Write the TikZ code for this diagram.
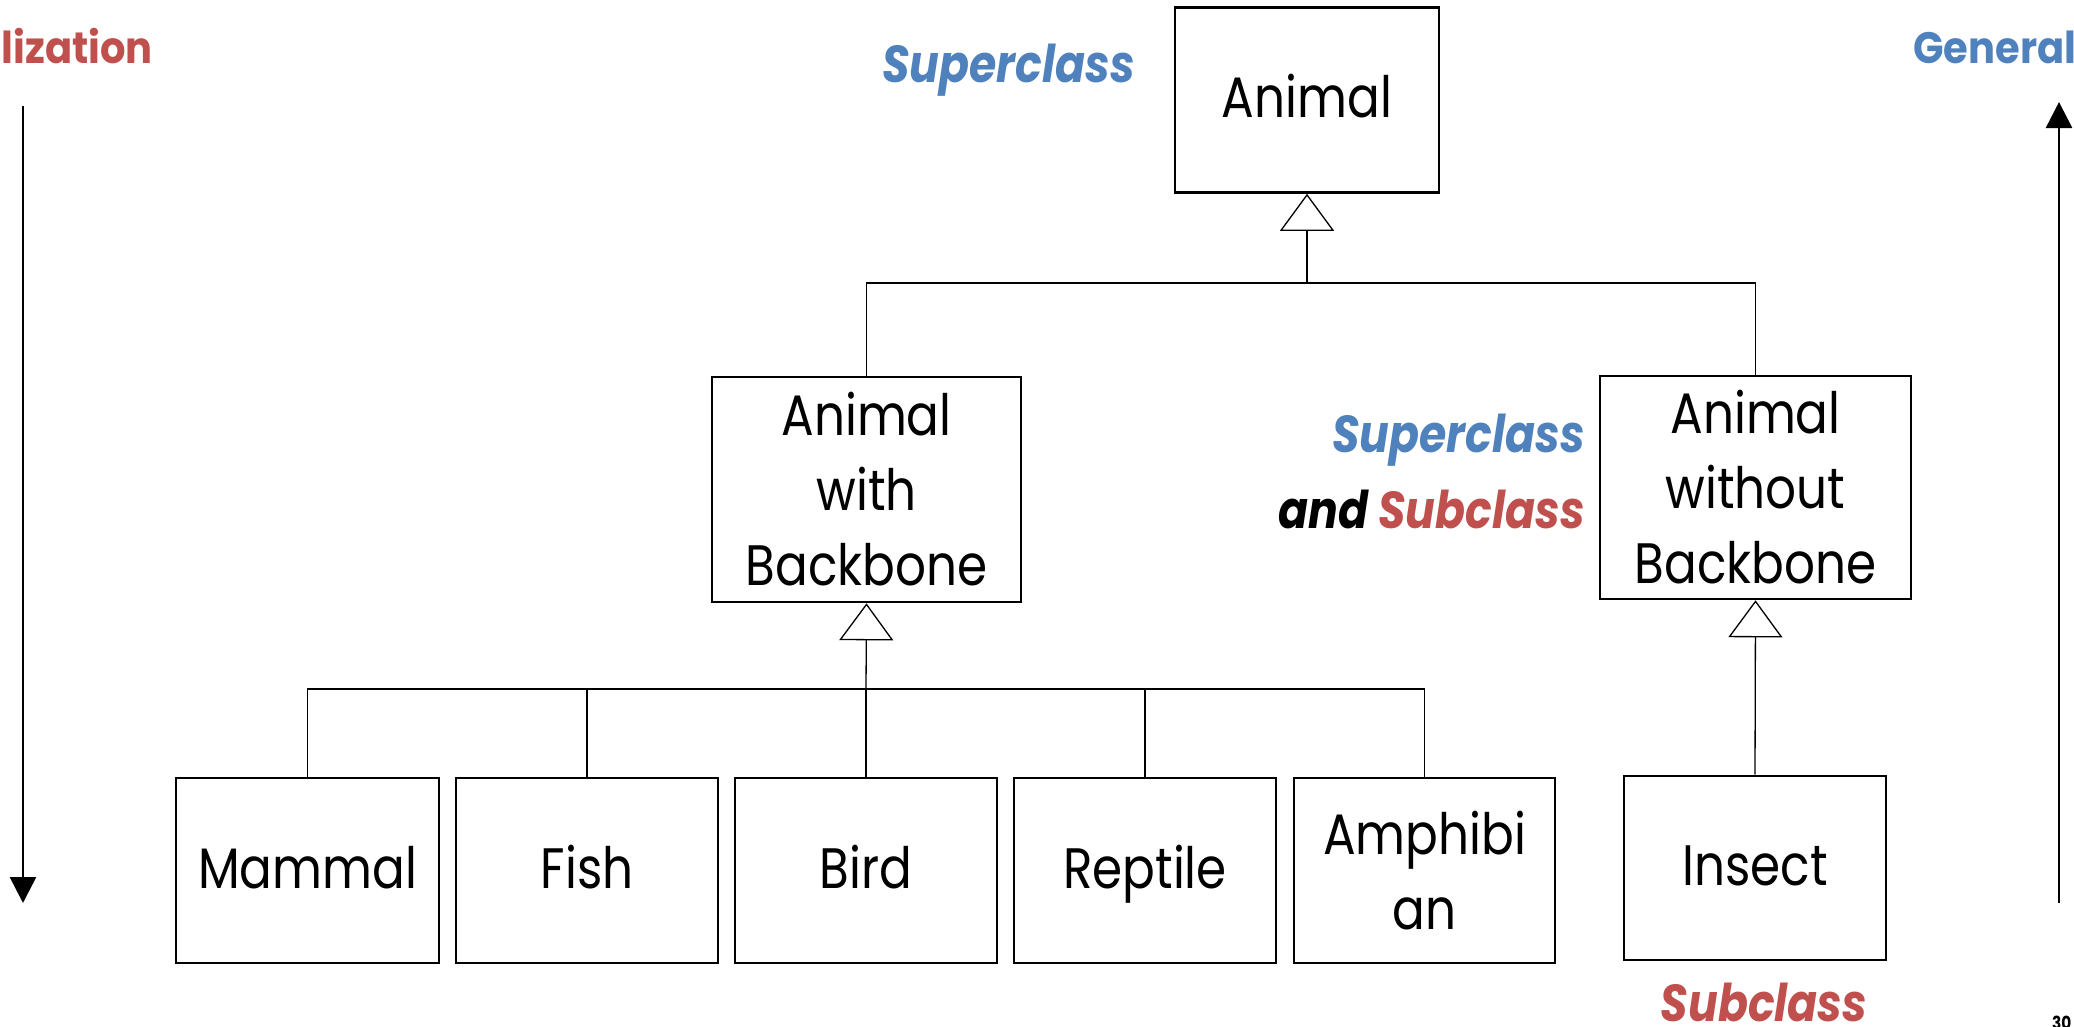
\documentclass[tikz,border=0pt]{standalone}
\usepackage{fontspec}
\setmainfont{Poppins}[FakeStretch=0.85]
\newfontfamily\dirfont{Poppins}[FakeStretch=0.91]
\usetikzlibrary{arrows.meta}
\definecolor{supred}{HTML}{C0504D}
\definecolor{supblue}{HTML}{4F81BD}
\begin{document}
\begin{tikzpicture}[x=1pt,y=-1pt,
  classbox/.style={draw, line width=2.6pt, fill=white, inner sep=0pt,
    align=center, font=\fontsize{57}{75}\selectfont},
  oneline/.style={text height=40pt, text depth=5pt},
  link/.style={line width=1.3pt},
  inh/.style={line width=1.3pt, -{Triangle[open,width=54pt,length=37pt]}},
  role/.style={font=\fontsize{52}{76}\selectfont\bfseries\itshape, inner sep=0pt},
  direction/.style={font=\dirfont\fontsize{44}{50}\selectfont\bfseries, inner sep=0pt},
  axis/.style={line width=2.6pt, -{Triangle[width=26pt,length=26pt]}}]
\useasboundingbox (0,0) rectangle (2074,1026);

% class boxes
\node[classbox, oneline, minimum width=264pt, minimum height=185pt] (animal) at (1307,100) {Animal};
\node[classbox, minimum width=309pt, minimum height=225pt] (awb) at (866.5,489.5) {Animal\\with\\Backbone};
\node[classbox, minimum width=311pt, minimum height=223pt] (awob) at (1755.5,487.5) {Animal\\without\\Backbone};
\node[classbox, oneline, minimum width=263pt, minimum height=185pt] (mammal) at (307.5,870.5) {Mammal};
\node[classbox, oneline, minimum width=262pt, minimum height=185pt] (fish) at (587,870.5) {Fish};
\node[classbox, oneline, minimum width=262pt, minimum height=185pt] (bird) at (866,870.5) {Bird};
\node[classbox, oneline, minimum width=262pt, minimum height=185pt] (reptile) at (1145,870.5) {Reptile};
\node[classbox, minimum width=261pt, minimum height=185pt] (amphibian) at (1424.5,870.5) {Amphibi\\an};
\node[classbox, oneline, minimum width=262pt, minimum height=184pt] (insect) at (1755,868) {Insect};

% generalisation links
\coordinate (j1) at (1307,283);
\coordinate (j2) at (866,689);
\draw[inh] (j1) -- (animal.south);
\draw[link] (awb.north) |- (j1) -| (awob.north);
\draw[inh] (j2) -- (awb.south);
\draw[link] (mammal.north) |- (j2) -| (amphibian.north);
\draw[link] (fish.north) -- (fish.north |- j2);
\draw[link] (bird.north) -- (j2);
\draw[link] (reptile.north) -- (reptile.north |- j2);
\draw[inh] (insect.north) -- (awob.south);

% role labels
\node[role, text=supblue, anchor=base east] (sup1) at (1135,82) {Superclass};
\node[role, text=supblue, anchor=base east] (sup2) at (1585,452) {Superclass};
\node[role, anchor=base east] (supsub) at (1585,528) {and \textcolor{supred}{Subclass}};
\node[role, text=supred, anchor=base] (sub1) at (1764,1021) {Subclass};

% direction arrows
\node[direction, text=supred, anchor=base east] (spec) at (153,63) {Specialization};
\node[direction, text=supblue, anchor=base west] (gen) at (1913,63) {Generalization};
\coordinate (specA) at (23,106);
\coordinate (specB) at (23,903);
\coordinate (genA) at (2059,903);
\coordinate (genB) at (2059,102);
\draw[axis] (specA) -- (specB);
\draw[axis] (genA) -- (genB);

% page number
\node[font=\fontsize{18}{20}\selectfont\bfseries, anchor=north west, inner sep=0pt] (page) at (2052,1016) {30};
\end{tikzpicture}
\end{document}
